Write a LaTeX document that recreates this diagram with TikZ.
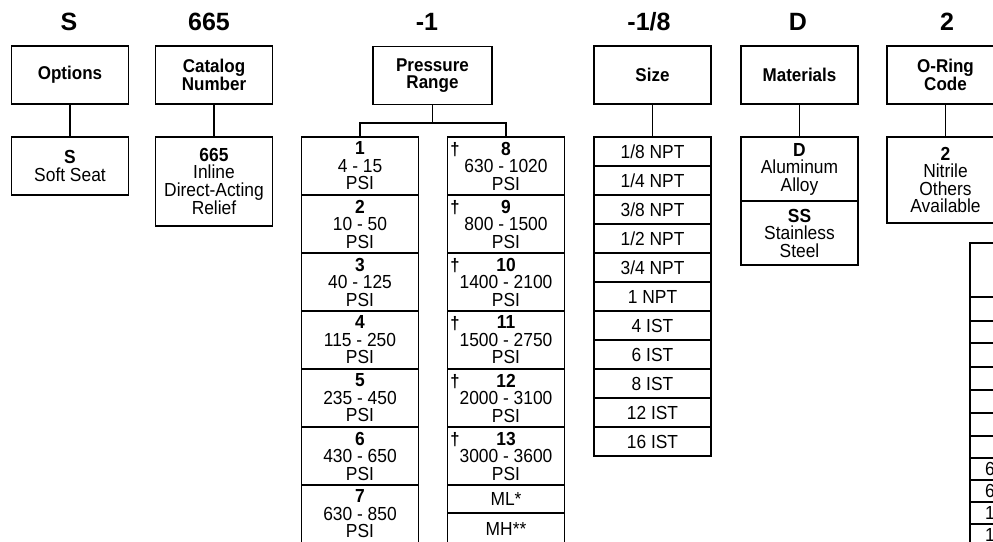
\documentclass[tikz,border=0pt]{standalone}
\usepackage{fontspec}
\newfontfamily\cond[FakeStretch=0.92]{Liberation Sans}
\newfontfamily\hdrf{Liberation Sans}
\begin{document}
\begin{tikzpicture}[x=1pt,y=-1pt,
  hdr/.style={font=\hdrf\bfseries\fontsize{25}{28}\selectfont, inner sep=0, anchor=base},
  lbl/.style={draw, line width=1.3pt, minimum width=117pt, minimum height=58pt, inner sep=0, align=center, font=\cond\bfseries\fontsize{18.5}{17.5}\selectfont},
  cell/.style={draw, line width=1.3pt, minimum width=117pt, inner sep=0, align=center, font=\cond\fontsize{18.9}{17.5}\selectfont},
  frag/.style={inner sep=0, anchor=west, font=\cond\fontsize{18.9}{17.5}\selectfont},
  dag/.style={inner sep=0, font=\cond\bfseries\fontsize{18}{18}\selectfont},
  link/.style={line width=1.2pt}
]
\useasboundingbox (0,0) rectangle (993,541);
\clip (0,0) rectangle (993,541);
\fill[white] (0,0) rectangle (993,541);

% column codes
\node[hdr] (hS) at (69,30) {S};
\node[hdr] (hCat) at (209,30) {665};
\node[hdr] (hPr) at (427,30) {-1};
\node[hdr] (hSz) at (649,30) {-1/8};
\node[hdr] (hMat) at (798,30) {D};
\node[hdr] (hOr) at (947,30) {2};

% category boxes
\node[lbl] (opt) at (70,75) {Options};
\node[lbl] (cat) at (214,75) {Catalog\\Number};
\node[lbl, minimum width=119pt] (pr) at (432.5,75.5) {Pressure\\Range};
\node[lbl] (sz) at (652.5,75) {Size};
\node[lbl] (mat) at (799.5,75) {Materials};
\node[lbl] (ori) at (945.5,75) {O-Ring\\Code};

% options / catalog
\node[cell, minimum height=58pt] (soft) at (70,166) {\textbf{S}\\Soft Seat};
\node[cell, minimum height=89pt] (inl) at (214,181.5) {\textbf{665}\\Inline\\Direct-Acting\\Relief};

% pressure ranges
\foreach \n/\lo/\hi [count=\i] in {1/4/15, 2/10/50, 3/40/125, 4/115/250, 5/235/450, 6/430/650, 7/630/850}
  \node[cell, minimum height=58pt] (pl\i) at (360,{108+58*\i}) {\textbf{\n}\\{\lo} - {\hi}\\PSI};
\foreach \n/\lo/\hi [count=\i] in {8/630/1020, 9/800/1500, 10/1400/2100, 11/1500/2750, 12/2000/3100, 13/3000/3600}
  {\node[cell, minimum height=58pt] (pR\i) at (506,{108+58*\i}) {\textbf{\n}\\{\lo} - {\hi}\\PSI};
   \node[dag] (dg\i) at (455,{92+58*\i}) {†};}
\node[cell, minimum height=28pt] (ml) at (506,499) {ML*};
\node[cell, minimum height=32pt] (mh) at (506,529) {MH**};

% sizes
\foreach \s [count=\i] in {{1/8 NPT},{1/4 NPT},{3/8 NPT},{1/2 NPT},{3/4 NPT},{1 NPT},{4 IST},{6 IST},{8 IST},{12 IST},{16 IST}}
  \node[cell, minimum height=29pt] (sz\i) at (652.5,{122.5+29*\i}) {\s};

% materials
\node[cell, minimum height=64pt] (matD) at (799.5,169) {\textbf{D}\\Aluminum\\Alloy};
\node[cell, minimum height=64pt] (matSS) at (799.5,233) {\textbf{SS}\\Stainless\\Steel};

% o-ring
\node[cell, minimum height=86pt] (ori2) at (945.5,180) {\textbf{2}\\Nitrile\\Others\\Available};

% truncated table at right edge
\node[cell, minimum width=120pt, minimum height=54pt] (trh) at (1030,270) {};
\foreach \t/\b [count=\i] in {297/321,321/343,343/367,367/390,390/413,413/436,436/458,458/480,480/502,502/524,524/546}
  \node[cell, minimum width=120pt, minimum height={\b-\t}] (tr\i) at (1030,{(\t+\b)/2}) {};
\node[frag] (f1) at (985,469) {6};
\node[frag] (f2) at (985,491) {6};
\node[frag] (f3) at (985,513) {1};
\node[frag] (f4) at (985,535) {1};

% connectors
\draw[link] (opt.south) -- (soft.north);
\draw[link] (cat.south) -- (inl.north);
\coordinate (bar) at (432.5,123);
\draw[link] (pr.south) -- (bar);
\draw[link] (pl1.north) |- (bar) -| (pR1.north);
\draw[link] (sz.south) -- (sz1.north);
\draw[link] (mat.south) -- (matD.north);
\draw[link] (ori.south) -- (ori2.north);
\end{tikzpicture}
\end{document}
